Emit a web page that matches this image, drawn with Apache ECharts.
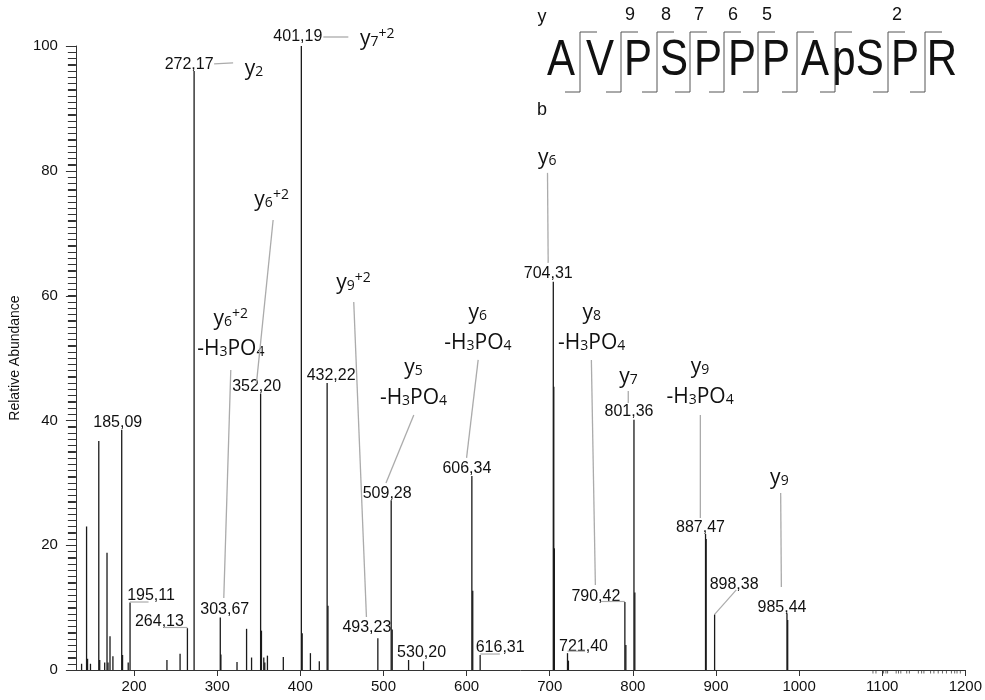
<!DOCTYPE html>
<html>
<head>
<meta charset="utf-8">
<script src="https://cdn.jsdelivr.net/npm/echarts@6/dist/echarts.min.js"></script>
<style>
  html, body { margin: 0; padding: 0; background: #fff; }
  #chart { width: 985px; height: 700px; }
</style>
</head>
<body>
<div id="chart"></div>
<script>
// MS/MS spectrum of AVPSPPPApSPR: centroided peaks (m/z, relative abundance %)
const peakMz = [
  136.8, 142.8, 144.0, 147.5, 157.5, 158.6, 164.6, 167.4, 168.6, 171.0, 174.5,
  185.09, 186.1, 192.9, 195.11, 239.5, 255.3, 264.13, 272.17, 303.67, 304.4,
  323.8, 335.3, 341.3, 352.20, 353.2, 356.0, 357.2, 360.4, 379.5, 401.19, 402.2,
  412.1, 422.8, 432.22, 433.2, 493.23, 509.28, 510.5, 530.20, 548.2, 606.34,
  607.4, 616.31, 704.31, 704.9, 705.6, 721.40, 722.5, 790.42, 791.6, 801.36,
  802.4, 887.47, 888.2, 898.38, 985.44, 986.3
];
const peakIntensity = [
  1.0, 23.0, 1.8, 1.0, 36.7, 1.6, 1.2, 18.8, 1.2, 5.4, 2.2,
  38.5, 2.4, 1.2, 10.8, 1.6, 2.6, 6.7, 96.0, 8.4, 2.5,
  1.3, 6.6, 2.0, 44.3, 6.3, 2.0, 1.2, 2.3, 2.1, 100.0, 5.9,
  2.7, 1.4, 46.0, 10.3, 5.1, 27.2, 6.5, 1.6, 1.4, 31.1,
  12.7, 2.4, 62.2, 45.4, 19.5, 2.7, 1.5, 10.9, 4.0, 40.1,
  12.4, 21.8, 21.0, 8.9, 9.1, 8.0
];

// peaks annotated with their m/z
const labelledMz = [
  185.09, 195.11, 264.13, 272.17, 303.67, 352.20, 401.19, 432.22, 493.23, 509.28,
  530.20, 606.34, 616.31, 704.31, 721.40, 790.42, 801.36, 887.47, 898.38, 985.44
];

// fragment ion assignments (rich text: s = subscript, p = superscript)
const ionMz = [272.17, 401.19, 352.20, 303.67, 493.23, 509.28, 606.34, 704.31, 790.42, 801.36, 887.47, 985.44];
const ionNames = [
  '{m|y}{s|2}',
  '{m|y}{s|7}{p|+2}',
  '{m|y}{s|6}{p|+2}',
  '{m|y}{s|6}{p|+2}\n{m|-H}{s|3}{m|PO}{s|4}',
  '{m|y}{s|9}{p|+2}',
  '{m|y}{s|5}\n{m|-H}{s|3}{m|PO}{s|4}',
  '{m|y}{s|6}\n{m|-H}{s|3}{m|PO}{s|4}',
  '{m|y}{s|6}',
  '{m|y}{s|8}\n{m|-H}{s|3}{m|PO}{s|4}',
  '{m|y}{s|7}',
  '{m|y}{s|9}\n{m|-H}{s|3}{m|PO}{s|4}',
  '{m|y}{s|9}'
];

// faint signals just below the baseline at the high-mass end
const baselineMarks = [1088.9, 1092.5, 1101.7, 1104.5, 1106.5, 1116.8, 1119.6, 1122.4, 1129.5, 1132.7,
  1143.5, 1147.4, 1150.2, 1158.2, 1162.2, 1167.4, 1172.5, 1177.3, 1183.3, 1187.2, 1190.0, 1194.0];

// peptide sequence and observed y-ion numbers
const residues = ['A', 'V', 'P', 'S', 'P', 'P', 'P', 'A', 'pS', 'P', 'R'];
const observedY = [9, 8, 7, 6, 5, 2];

// axis graduations
const xTicks = [200, 300, 400, 500, 600, 700, 800, 900, 1000, 1100, 1200];
const yLabels = [0, 20, 40, 60, 80, 100];
const yTicks = [];
for (let v = 0; v <= 100; v += 1) yTicks.push(v);

// ---- annotation layout (pixel offsets from the peak apex) ----
const valueLabelOffset = {
  '185.09': [-4, -7], '195.11': [21, -7.5], '264.13': [-28, -7], '272.17': [-5, -6],
  '303.67': [4.5, -7.5], '352.20': [-4, -6.5], '401.19': [-3.5, -9], '432.22': [4, -7],
  '493.23': [-11, -11], '509.28': [-4, -7], '530.20': [13, -7], '606.34': [-5, -7],
  '616.31': [20, -7], '704.31': [-5, -8], '721.40': [16, -7], '790.42': [-29, -5.5],
  '801.36': [-5, -8], '887.47': [-5, -6], '898.38': [19.5, -29.5], '985.44': [-5, -6]
};
const valueConnector = {
  '195.11': [[0, -0.6], [18.5, -0.6]],
  '264.13': [[-23.4, -0.7], [0, -0.7]],
  '616.31': [[0, -1], [19.7, -1]],
  '721.40': [[0, -2], [17.6, -2]],
  '790.42': [[-24, -0.5], [0, -0.5]],
  '898.38': [[0, 0], [21.7, -24.5]]
};
const ionLayout = {
  '272.17': { at: [60, -2], lead: [[20, -7], [39, -8]] },
  '401.19': { at: [76, -7], lead: [[22, -9], [47, -9]] },
  '352.20': { at: [11, -194], lead: [[12.5, -173.6], [-4.2, -10]] },
  '303.67': { at: [10.5, -283.6], lead: [[10.5, -247.6], [3.5, -19.6]] },
  '493.23': { at: [-24.4, -355.2], lead: [[-24.1, -336.2], [-11.4, -21.2]] },
  '509.28': { at: [22.3, -117.3], lead: [[22.6, -85.3], [-5.2, -17.3]] },
  '606.34': { at: [6, -148], lead: [[6.3, -116], [-5.3, -18]] },
  '704.31': { at: [-6, -124], lead: [[-5.8, -109], [-5.1, -19]] },
  '790.42': { at: [-33.2, -274], lead: [[-33.5, -242], [-29.5, -17]] },
  '801.36': { at: [-5.4, -42.8], lead: [[-5.7, -28.8], [-5.7, -16.8]] },
  '887.47': { at: [-5.5, -152], lead: [[-5.2, -119], [-5.2, -16]] },
  '985.44': { at: [-7.6, -135.2], lead: [[-6.3, -120.2], [-5.6, -26.2]] }
};

const VALUE_FONT = '16px "Liberation Sans", Arial, sans-serif';
const ION_FONT = '"Open Sans", "Noto Sans", sans-serif';
const LEADER = '#ababab';
const AXIS_COLOR = '#333';
const AXIS_FONT = '"Liberation Sans", Arial, sans-serif';
const X_MIN = 130;

function intensityAt(mz) {
  return peakIntensity[peakMz.indexOf(mz)];
}
function mzText(mz) {
  return mz.toFixed(2).replace('.', ',');
}

const chart = echarts.init(document.getElementById('chart'), null, { renderer: 'canvas' });

const annotationData = labelledMz.map(m => [m, intensityAt(m)]);

function renderAnnotation(params, api) {
  const mz = api.value(0);
  const key = mz.toFixed(2);
  const p = api.coord([mz, api.value(1)]);
  const children = [];
  const off = valueLabelOffset[key];
  children.push({
    type: 'text',
    x: p[0] + off[0], y: p[1] + off[1],
    style: {
      text: mzText(mz), font: VALUE_FONT, fill: '#111',
      align: 'center', verticalAlign: 'middle', textAlign: 'center', textVerticalAlign: 'middle'
    }
  });
  const conn = valueConnector[key];
  if (conn) {
    children.push({
      type: 'line',
      shape: { x1: p[0] + conn[0][0], y1: p[1] + conn[0][1], x2: p[0] + conn[1][0], y2: p[1] + conn[1][1] },
      style: { stroke: LEADER, lineWidth: 1.2 }
    });
  }
  const ionIdx = ionMz.indexOf(mz);
  if (ionIdx >= 0) {
    const lay = ionLayout[key];
    children.push({
      type: 'line',
      shape: { x1: p[0] + lay.lead[0][0], y1: p[1] + lay.lead[0][1], x2: p[0] + lay.lead[1][0], y2: p[1] + lay.lead[1][1] },
      style: { stroke: LEADER, lineWidth: 1.3 }
    });
    children.push({
      type: 'text',
      x: p[0] + lay.at[0], y: p[1] + lay.at[1],
      style: {
        text: ionNames[ionIdx],
        align: 'center', verticalAlign: 'middle', textAlign: 'center', textVerticalAlign: 'middle',
        rich: {
          m: { fontFamily: ION_FONT, fontSize: 21, lineHeight: 30, fill: '#111', color: '#111' },
          s: { fontFamily: ION_FONT, fontSize: 14, lineHeight: 14, verticalAlign: 'bottom', fill: '#111', color: '#111', padding: [0, 0, 5, 0] },
          p: { fontFamily: ION_FONT, fontSize: 14, lineHeight: 14, verticalAlign: 'top', fill: '#111', color: '#111', padding: [3, 0, 0, 0] }
        }
      }
    });
  }
  return { type: 'group', children };
}

// peptide sequence header with fragmentation brackets
const seqCentres = [561, 600, 638, 674, 708, 742, 776, 815, 858, 905, 942];
const bracketX = [580, 621, 657, 690, 724, 758, 797, 835, 888, 925];
const graphics = [];
residues.forEach((r, i) => {
  graphics.push({
    type: 'text', x: seqCentres[i], y: 61, scaleY: 1.2,
    style: {
      text: r, font: '42px "Liberation Sans", Arial, sans-serif', fill: '#111',
      align: 'center', verticalAlign: 'middle', textAlign: 'center', textVerticalAlign: 'middle'
    }
  });
});
bracketX.forEach((bx, i) => {
  graphics.push({
    type: 'polyline',
    shape: { points: [[bx + 17, 32], [bx, 32], [bx, 92], [bx - 15, 92]] },
    style: { stroke: '#555', lineWidth: 1, fill: null }
  });
  const yNum = residues.length - (i + 1);
  if (observedY.indexOf(yNum) >= 0) {
    graphics.push({
      type: 'text', x: bx + 9, y: 15,
      style: {
        text: String(yNum), font: '18px "Liberation Sans", Arial, sans-serif', fill: '#111',
        align: 'center', verticalAlign: 'middle', textAlign: 'center', textVerticalAlign: 'middle'
      }
    });
  }
});
[['y', 17], ['b', 110]].forEach(([t, yy]) => {
  graphics.push({
    type: 'text', x: 542, y: yy,
    style: {
      text: t, font: '18px "Liberation Sans", Arial, sans-serif', fill: '#111',
      align: 'center', verticalAlign: 'middle', textAlign: 'center', textVerticalAlign: 'middle'
    }
  });
});

const option = {
  animation: false,
  backgroundColor: '#fff',
  grid: { left: 73, right: 16, top: 46, bottom: 30, containLabel: false },
  xAxis: {
    type: 'value', min: X_MIN, max: 1200,
    axisLine: { show: true, onZero: false, lineStyle: { color: AXIS_COLOR, width: 1 } },
    axisTick: { show: true, length: 6, customValues: xTicks, lineStyle: { color: AXIS_COLOR } },
    axisLabel: {
      customValues: xTicks, color: '#111', fontSize: 15, margin: 9,
      fontFamily: AXIS_FONT, formatter: v => String(v)
    },
    splitLine: { show: false }
  },
  yAxis: {
    type: 'value', min: 0, max: 100,
    name: 'Relative Abundance', nameLocation: 'middle', nameGap: 50, nameRotate: 90,
    nameTextStyle: { color: '#111', fontSize: 14, fontFamily: AXIS_FONT },
    axisLine: { show: true, lineStyle: { color: AXIS_COLOR, width: 1 } },
    axisTick: { show: true, length: 8, customValues: yTicks, lineStyle: { color: AXIS_COLOR, width: 1 } },
    axisLabel: { customValues: yLabels, color: '#111', fontSize: 15, margin: 18, fontFamily: AXIS_FONT },
    splitLine: { show: false }
  },
  graphic: graphics,
  series: [
    {
      // graduation comb on the abundance axis, longer marks at the labelled values
      name: 'graduation', type: 'custom', clip: false, silent: true, z: 5,
      data: yTicks.map(v => [X_MIN, v]),
      encode: { x: 0, y: 1 },
      renderItem(params, api) {
        const v = api.value(1);
        const p = api.coord([X_MIN, v]);
        const len = v % 20 === 0 ? 10 : 8;
        const yy = Math.round(p[1]) + 0.5;
        return {
          type: 'line',
          shape: { x1: p[0] - len, y1: yy, x2: p[0], y2: yy },
          style: { stroke: AXIS_COLOR, lineWidth: 1 }
        };
      }
    },
    {
      name: 'peaks', type: 'custom', clip: true,
      data: peakMz.map((m, i) => [m, peakIntensity[i]]),
      encode: { x: 0, y: 1 },
      renderItem(params, api) {
        const top = api.coord([api.value(0), api.value(1)]);
        const base = api.coord([api.value(0), 0]);
        return {
          type: 'line',
          shape: { x1: top[0], y1: top[1], x2: base[0], y2: base[1] },
          style: { stroke: '#1a1a1a', lineWidth: 1.3 }
        };
      }
    },
    {
      name: 'baseline', type: 'custom', clip: false, silent: true,
      data: baselineMarks.map(m => [m, 0]),
      encode: { x: 0, y: 1 },
      renderItem(params, api) {
        const base = api.coord([api.value(0), 0]);
        return {
          type: 'line',
          shape: { x1: base[0], y1: base[1] + 1, x2: base[0], y2: base[1] + 3.5 },
          style: { stroke: '#666', lineWidth: 1 }
        };
      }
    },
    {
      name: 'annotations', type: 'custom', clip: false, silent: true,
      data: annotationData,
      encode: { x: 0, y: 1 },
      renderItem: renderAnnotation
    }
  ]
};

chart.setOption(option);
</script>
</body>
</html>
